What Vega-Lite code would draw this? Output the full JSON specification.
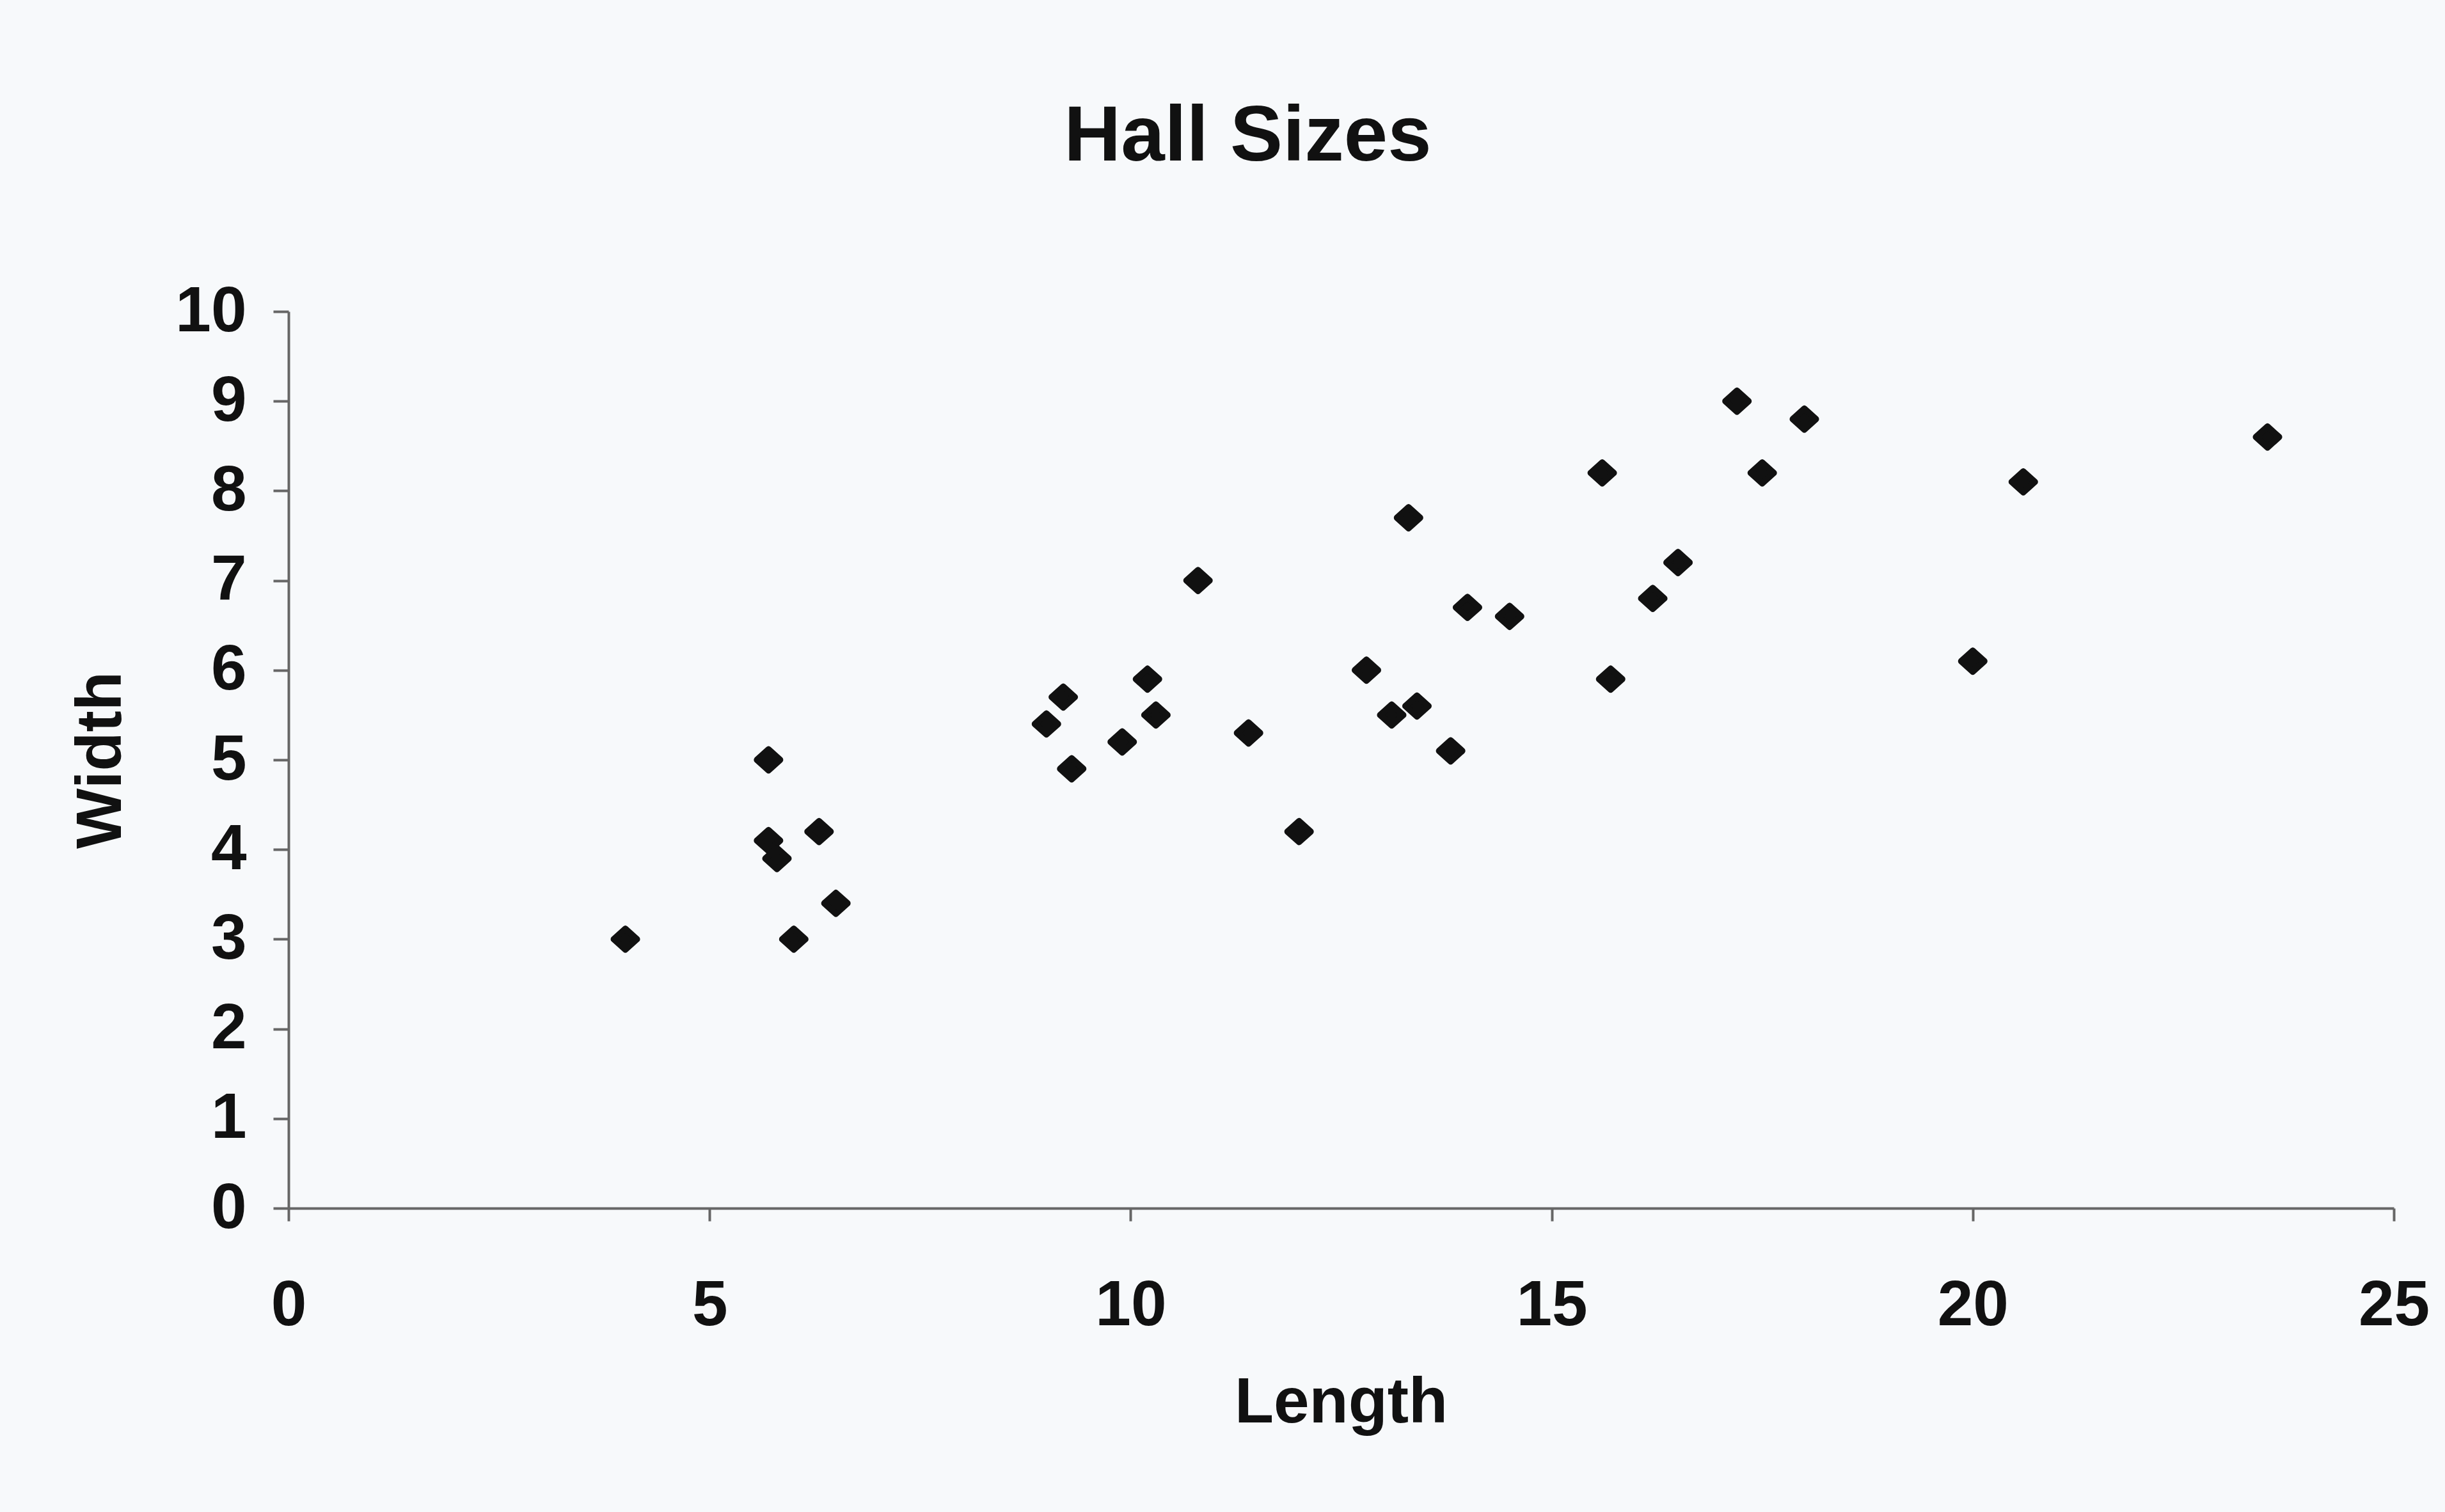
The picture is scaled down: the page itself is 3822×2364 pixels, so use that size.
{
  "$schema": "https://vega.github.io/schema/vega-lite/v6.json",
  "autosize": "none",
  "width": 3291,
  "height": 1402,
  "padding": {"left": 451, "top": 487, "right": 80, "bottom": 475},
  "background": "#f7f9fb",
  "title": {
    "text": "Hall Sizes",
    "anchor": "middle",
    "frame": "group",
    "dx": -146,
    "offset": 63,
    "baseline": "alphabetic",
    "font": "Liberation Sans",
    "fontSize": 123,
    "fontWeight": "bold",
    "color": "#111111"
  },
  "data": {
    "values": [
      {"Length": 4.0, "Width": 3.0},
      {"Length": 5.7, "Width": 5.0},
      {"Length": 5.7, "Width": 4.1},
      {"Length": 5.8, "Width": 3.9},
      {"Length": 6.0, "Width": 3.0},
      {"Length": 6.3, "Width": 4.2},
      {"Length": 6.5, "Width": 3.4},
      {"Length": 9.0, "Width": 5.4},
      {"Length": 9.2, "Width": 5.7},
      {"Length": 9.3, "Width": 4.9},
      {"Length": 9.9, "Width": 5.2},
      {"Length": 10.2, "Width": 5.9},
      {"Length": 10.3, "Width": 5.5},
      {"Length": 10.8, "Width": 7.0},
      {"Length": 11.4, "Width": 5.3},
      {"Length": 12.0, "Width": 4.2},
      {"Length": 12.8, "Width": 6.0},
      {"Length": 13.1, "Width": 5.5},
      {"Length": 13.3, "Width": 7.7},
      {"Length": 13.4, "Width": 5.6},
      {"Length": 13.8, "Width": 5.1},
      {"Length": 14.0, "Width": 6.7},
      {"Length": 14.5, "Width": 6.6},
      {"Length": 15.6, "Width": 8.2},
      {"Length": 15.7, "Width": 5.9},
      {"Length": 16.2, "Width": 6.8},
      {"Length": 16.5, "Width": 7.2},
      {"Length": 17.2, "Width": 9.0},
      {"Length": 17.5, "Width": 8.2},
      {"Length": 18.0, "Width": 8.8},
      {"Length": 20.0, "Width": 6.1},
      {"Length": 20.6, "Width": 8.1},
      {"Length": 23.5, "Width": 8.6}
    ]
  },
  "mark": {
    "type": "point",
    "shape": "M-1,0L0,-0.9L1,0L0,0.9Z",
    "filled": true,
    "size": 1300,
    "color": "#111111",
    "stroke": "#111111",
    "strokeWidth": 10,
    "strokeJoin": "round",
    "opacity": 1
  },
  "encoding": {
    "x": {
      "field": "Length",
      "type": "quantitative",
      "scale": {"domain": [0, 25], "nice": false, "zero": true},
      "axis": {
        "title": "Length",
        "values": [0, 5, 10, 15, 20, 25],
        "grid": false,
        "tickSize": 20,
        "labelPadding": 83,
        "titleX": 1645,
        "titleY": 334,
        "titleBaseline": "alphabetic",
        "titleAnchor": "middle",
        "titleAlign": "center"
      }
    },
    "y": {
      "field": "Width",
      "type": "quantitative",
      "scale": {"domain": [0, 10], "nice": false},
      "axis": {
        "title": "Width",
        "values": [0, 1, 2, 3, 4, 5, 6, 7, 8, 9, 10],
        "grid": false,
        "tickSize": 24,
        "labelPadding": 42,
        "titleX": -293,
        "titleY": 701,
        "titleAngle": 270,
        "titleBaseline": "middle",
        "titleAlign": "center"
      }
    }
  },
  "config": {
    "view": {"stroke": null},
    "axis": {
      "domainColor": "#666666",
      "domainWidth": 4,
      "tickColor": "#666666",
      "tickWidth": 4,
      "labelFont": "Liberation Sans",
      "labelFontSize": 100,
      "labelFontWeight": "bold",
      "labelColor": "#111111",
      "labelOverlap": false,
      "labelFlush": false,
      "titleFont": "Liberation Sans",
      "titleFontSize": 100,
      "titleFontWeight": "bold",
      "titleColor": "#111111"
    }
  }
}
